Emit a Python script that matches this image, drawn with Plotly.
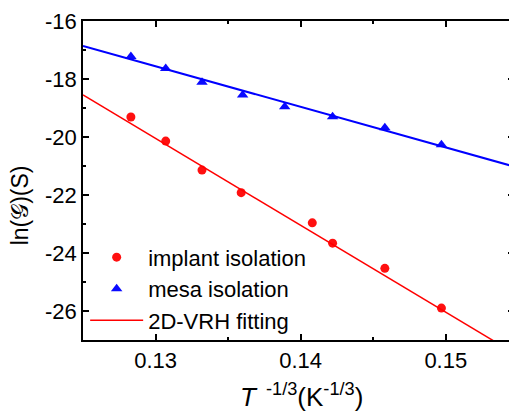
import plotly.graph_objects as go

# T^-1/3 (K^-1/3) for both sample sets
t_implant = [0.1283, 0.1307, 0.1332, 0.1359, 0.1408, 0.1422, 0.1458, 0.1497]
ln_g_implant = [-19.31, -20.14, -21.14, -21.92, -22.96, -23.66, -24.53, -25.90]

t_mesa = [0.1283, 0.1307, 0.1332, 0.1360, 0.1389, 0.1422, 0.1458, 0.1497]
ln_g_mesa = [-17.22, -17.64, -18.11, -18.55, -18.96, -19.30, -19.68, -20.27]

# 2D-VRH fit lines (end points)
fit_t = [0.125, 0.155]
fit_implant = [-18.55, -27.54]
fit_mesa = [-16.86, -21.06]

x_ticks = [0.13, 0.14, 0.15]
y_ticks = [-16, -18, -20, -22, -24, -26]

font_family = "Arial, Liberation Sans, sans-serif"

fig = go.Figure()

fig.add_trace(go.Scatter(
    name="implant isolation", x=t_implant, y=ln_g_implant, mode="markers",
    marker=dict(symbol="circle", size=9, color="#ff1010"),
))
fig.add_trace(go.Scatter(
    name="mesa isolation", x=t_mesa, y=ln_g_mesa, mode="markers",
    marker=dict(symbol="triangle-up", size=10, color="#0a0aff"),
))
fig.add_trace(go.Scatter(
    name="2D-VRH fitting", x=fit_t, y=fit_implant, mode="lines",
    line=dict(color="#ff0000", width=1.5),
))
fig.add_trace(go.Scatter(
    name="mesa fit", x=fit_t, y=fit_mesa, mode="lines", showlegend=False,
    line=dict(color="#0000ff", width=2),
))

axis_common = dict(
    showline=True, linecolor="black", linewidth=1.5, mirror="ticks",
    ticks="inside", ticklen=6, tickwidth=1.5, tickcolor="black",
    showgrid=False, zeroline=False, ticklabeloverflow="allow",
    tickfont=dict(family=font_family, size=22, color="black"),
)

fig.update_xaxes(
    range=[0.125, 0.1547], tickvals=x_ticks,
    ticktext=["%.2f" % v for v in x_ticks],
    minor=dict(ticks="inside", ticklen=3, tickwidth=1.5, tickcolor="black", dtick=0.005),
    **axis_common,
)
fig.update_yaxes(
    range=[-27, -16], tickvals=y_ticks,
    ticktext=["%d" % v for v in y_ticks],
    minor=dict(ticks="inside", ticklen=3, tickwidth=1.5, tickcolor="black", dtick=1),
    **axis_common,
)

# axis titles as annotations for exact placement
fig.add_annotation(
    text="ln(𝒢)(S)", xref="paper", yref="paper", x=-0.1455, y=0.423,
    textangle=-90, showarrow=False, xanchor="center", yanchor="middle",
    font=dict(family=font_family, size=23, color="black"),
)
fig.add_annotation(
    text="<i>T</i><sup>  -1/3</sup>(K<sup>-1/3</sup>)", xref="paper", yref="paper",
    x=0.506, y=-0.116, showarrow=False, xanchor="center", yanchor="top",
    font=dict(family=font_family, size=26, color="black"),
)

fig.update_layout(
    width=509, height=403,
    margin=dict(l=75, r=1, t=10, b=71),
    paper_bgcolor="white", plot_bgcolor="white",
    font=dict(family=font_family, color="black"),
    legend=dict(
        x=0.005, y=0.325, xanchor="left", yanchor="top",
        bgcolor="rgba(0,0,0,0)", tracegroupgap=0, itemwidth=53,
        font=dict(family=font_family, size=22, color="black"),
    ),
)

fig.write_html("out.html")
